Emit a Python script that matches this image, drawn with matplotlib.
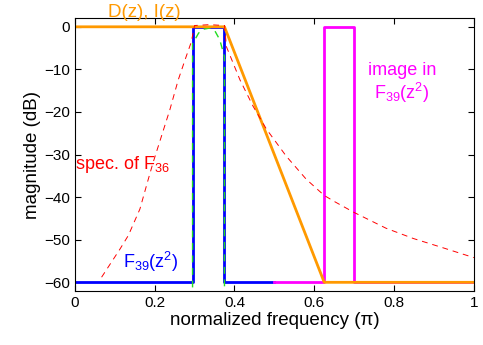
import matplotlib
matplotlib.use("Agg")
import matplotlib.pyplot as plt

plt.rcParams["font.family"] = ["Liberation Sans", "DejaVu Sans"]
plt.rcParams["mathtext.fontset"] = "custom"
plt.rcParams["mathtext.rm"] = "Liberation Sans"
plt.rcParams["mathtext.it"] = "Liberation Sans"
plt.rcParams["mathtext.default"] = "regular"

# D(z), I(z) response (orange)
di_x = [0.0, 0.375, 0.625, 1.0]
di_y = [0.0, 0.0, -60.0, -60.0]

# F39(z^2) (blue)
f39_x = [0.0, 0.295, 0.295, 0.375, 0.375, 0.5]
f39_y = [-60.0, -60.0, 0.0, 0.0, -60.0, -60.0]

# image in F39(z^2) (magenta)
img_x = [0.5, 0.625, 0.625, 0.7, 0.7, 1.0]
img_y = [-60.0, -60.0, 0.0, 0.0, -60.0, -60.0]

# green dashed passband response
grn_x = [0.295, 0.295, 0.31, 0.32, 0.338, 0.35, 0.363, 0.375, 0.375]
grn_y = [-70.0, -4.0, -1.5, -0.6, -0.3, -0.8, -3.0, -7.0, -70.0]

# spec. of F36 (red dashed)
spec_x = [0.067, 0.113, 0.134, 0.163, 0.184, 0.196, 0.217, 0.238, 0.259,
          0.276, 0.292, 0.30, 0.337, 0.375, 0.38, 0.414, 0.447, 0.48, 0.53,
          0.58, 0.625, 0.65, 0.70, 0.78, 0.848, 0.923, 1.0]
spec_y = [-58.8, -52.2, -49.0, -42.8, -35.8, -31.9, -25.7, -19.5, -12.5,
          -7.8, -3.5, 0.3, 0.5, 0.3, -4.7, -12.5, -18.7, -24.0, -30.4,
          -35.8, -39.6, -41.0, -43.6, -47.3, -49.7, -51.9, -54.2]

xticks = [0, 0.2, 0.4, 0.6, 0.8, 1]
yticks = [0, -10, -20, -30, -40, -50, -60]

fig = plt.figure(figsize=(4.83, 3.45), dpi=100)
ax = fig.add_axes([0.155, 0.157, 0.826, 0.79])

ax.plot(f39_x, f39_y, color="#0000ff", lw=2.0)
ax.plot(grn_x, grn_y, color="#22dd22", lw=1.0, ls=(0, (5, 4)))
ax.plot(img_x, img_y, color="#ff00ff", lw=2.0)
ax.plot(di_x, di_y, color="#ff9900", lw=2.0)
ax.plot(spec_x, spec_y, color="#ff0000", lw=0.7, ls=(0, (6, 5)))

ax.set_xlim(0, 1)
ax.set_ylim(-62, 2)
ax.set_xticks(xticks)
ax.set_xticklabels([f"{t:g}" for t in xticks])
ax.set_yticks(yticks)
ax.tick_params(direction="in", top=True, right=True, labelsize=11, length=4)

ax.set_xlabel("normalized frequency (\u03c0)", fontsize=13.5, labelpad=2)
ax.set_ylabel("magnitude (dB)", fontsize=13.5, labelpad=2)

ax.text(0.175, 3.4, "D(z), I(z)", color="#ff9900", fontsize=13.5,
        ha="center", va="center", clip_on=False)
ax.text(0.0, -32.3, r"spec. of F$_{36}$", color="#ff0000", fontsize=13,
        ha="left", va="center")
ax.text(0.12, -55.3, r"F$_{39}$(z$^2$)", color="#0000ff", fontsize=13,
        ha="left", va="center")
ax.text(0.82, -10.3, "image in", color="#ff00ff", fontsize=13,
        ha="center", va="center")
ax.text(0.82, -15.5, r"F$_{39}$(z$^2$)", color="#ff00ff", fontsize=13,
        ha="center", va="center")

fig.savefig("out.png", dpi=100)
